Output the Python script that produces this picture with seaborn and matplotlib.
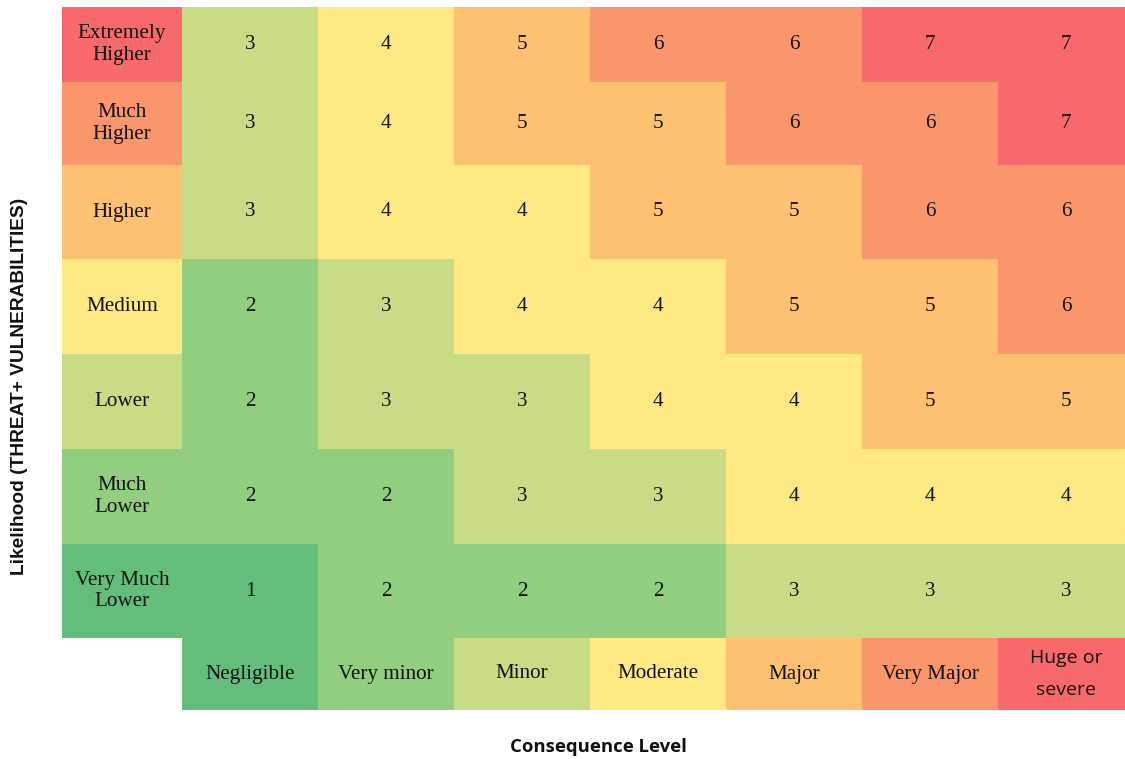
import numpy as np
import matplotlib
matplotlib.use("Agg")
import matplotlib.pyplot as plt
from matplotlib.colors import ListedColormap
import seaborn as sns

# ---- data ----
likelihood_labels = ["Extremely\nHigher", "Much\nHigher", "Higher", "Medium",
                     "Lower", "Much\nLower", "Very Much\nLower"]
likelihood_levels = [7, 6, 5, 4, 3, 2, 1]
consequence_labels = ["Negligible", "Very minor", "Minor", "Moderate",
                      "Major", "Very Major", "Huge or\nsevere"]
consequence_levels = [1, 2, 3, 4, 5, 6, 7]
risk = [
    [3, 4, 5, 6, 6, 7, 7],
    [3, 4, 5, 5, 6, 6, 7],
    [3, 4, 4, 5, 5, 6, 6],
    [2, 3, 4, 4, 5, 5, 6],
    [2, 3, 3, 4, 4, 5, 5],
    [2, 2, 3, 3, 4, 4, 4],
    [1, 2, 2, 2, 3, 3, 3],
]
level_colors = ["#63BE7B", "#92CE7F", "#C8DC85", "#FEE983",
                "#FDC171", "#F9966B", "#F8696B"]

sns.set_theme(style="white")
plt.rcParams["font.family"] = ["Liberation Serif", "DejaVu Serif"]

cmap = ListedColormap(level_colors)
W, H = 1125, 759
fig = plt.figure(figsize=(W / 100, H / 100), dpi=100)

row_h = [75, 83, 94, 95, 95, 95, 94, 72]
# the last column is cut by the right edge of the picture (grid ends at x=1134)
gs = fig.add_gridspec(8, 2, left=62 / W, right=1134 / W, top=1 - 7 / H, bottom=1 - 710 / H,
                      height_ratios=row_h, width_ratios=[120, 952],
                      hspace=0, wspace=0)

kw = dict(cmap=cmap, vmin=0.5, vmax=7.5, cbar=False, fmt="", linewidths=0,
          xticklabels=False, yticklabels=False)
txt = dict(color="#111111", fontsize=15.2, linespacing=1.2)

for i in range(7):
    axl = fig.add_subplot(gs[i, 0])
    sns.heatmap(np.array([[likelihood_levels[i]]]), ax=axl,
                annot=np.array([[likelihood_labels[i]]]), annot_kws=txt, **kw)
    axr = fig.add_subplot(gs[i, 1])
    sns.heatmap(np.array([risk[i]]), ax=axr,
                annot=np.array([[str(v) for v in risk[i]]]), annot_kws=txt, **kw)

axb = fig.add_subplot(gs[7, 1])
sns.heatmap(np.array([consequence_levels]), ax=axb,
            annot=np.array([consequence_labels]), annot_kws=txt, **kw)
for t in axb.texts:
    if "Huge" in t.get_text():
        t.set_family(["Open Sans", "DejaVu Sans"])
        t.set_linespacing(2.0)
        t.set_fontsize(14)

for ax in fig.axes:
    ax.set_xticks([]); ax.set_yticks([])
    for s in ax.spines.values():
        s.set_visible(False)

fig.text(20 / W, 1 - 386 / H, "Likelihood (THREAT+ VULNERABILITIES)", rotation=90,
         ha="center", va="center", fontsize=13.8, fontweight="bold",
         family=["Liberation Sans", "DejaVu Sans"], color="#111111")
fig.text(598 / W, 1 - 747 / H, "Consequence Level", ha="center", va="center",
         fontsize=13.3, fontweight="bold", family=["Open Sans", "DejaVu Sans"],
         color="#111111")

fig.savefig("out.png", dpi=100)
